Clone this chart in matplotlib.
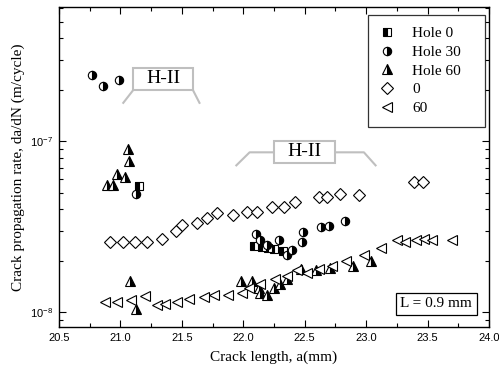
import numpy as np
import matplotlib
matplotlib.use("Agg")
import matplotlib.pyplot as plt
from matplotlib.ticker import MultipleLocator, LogLocator, NullFormatter, FormatStrFormatter
from matplotlib.patches import Rectangle

plt.rcParams['font.family'] = 'Liberation Serif'

# Hole 0 (half filled squares)
hole0_a = [21.155, 22.09, 22.15, 22.20, 22.25, 22.32]
hole0_v = [5.5e-8, 2.45e-8, 2.4e-8, 2.38e-8, 2.35e-8, 2.3e-8]

# Hole 30 (half filled circles)
hole30_a = [20.77, 20.86, 20.99, 21.13, 22.10, 22.14, 22.19, 22.29, 22.36, 22.40,
            22.48, 22.49, 22.63, 22.70, 22.83]
hole30_v = [2.43e-7, 2.1e-7, 2.3e-7, 4.9e-8, 2.88e-8, 2.64e-8, 2.47e-8, 2.64e-8, 2.16e-8, 2.33e-8,
            2.58e-8, 2.95e-8, 3.15e-8, 3.2e-8, 3.42e-8]

# Hole 60 (half filled triangles)
hole60_a = [20.89, 20.94, 20.97, 21.04, 21.07, 21.06, 21.08, 21.13,
            21.98, 22.07, 22.125, 22.14, 22.19, 22.25, 22.30, 22.36, 22.47, 22.59,
            22.71, 22.89, 23.04]
hole60_v = [5.53e-8, 5.53e-8, 6.47e-8, 6.16e-8, 7.67e-8, 9.07e-8, 1.52e-8, 1.05e-8,
            1.52e-8, 1.52e-8, 1.38e-8, 1.29e-8, 1.26e-8, 1.38e-8, 1.46e-8, 1.56e-8, 1.80e-8, 1.76e-8,
            1.83e-8, 1.88e-8, 1.99e-8]

# 0 (open diamonds)
d0_a = [20.92, 21.02, 21.12, 21.215, 21.34, 21.45, 21.50, 21.62, 21.705, 21.79,
        21.92, 22.03, 22.11, 22.235, 22.33, 22.425, 22.615, 22.68, 22.79, 22.94,
        23.39, 23.46]
d0_v = [2.58e-8, 2.58e-8, 2.58e-8, 2.58e-8, 2.7e-8, 2.99e-8, 3.23e-8, 3.33e-8, 3.58e-8, 3.83e-8,
        3.69e-8, 3.86e-8, 3.86e-8, 4.11e-8, 4.11e-8, 4.42e-8, 4.72e-8, 4.72e-8, 4.9e-8, 4.83e-8,
        5.78e-8, 5.78e-8]

# 60 (open left triangles)
d60_a = [20.875, 20.97, 21.085, 21.20, 21.30, 21.365, 21.46, 21.555, 21.68, 21.76,
         21.88, 21.99, 22.044, 22.14, 22.26, 22.357, 22.44, 22.52, 22.615, 22.724,
         22.833, 22.98, 23.118, 23.254, 23.32, 23.404, 23.47, 23.54, 23.70]
d60_v = [1.15e-8, 1.15e-8, 1.175e-8, 1.24e-8, 1.11e-8, 1.12e-8, 1.15e-8, 1.19e-8, 1.23e-8, 1.26e-8,
         1.26e-8, 1.29e-8, 1.38e-8, 1.47e-8, 1.57e-8, 1.64e-8, 1.76e-8, 1.71e-8, 1.80e-8, 1.88e-8,
         2.01e-8, 2.18e-8, 2.39e-8, 2.65e-8, 2.58e-8, 2.66e-8, 2.70e-8, 2.66e-8, 2.66e-8]

fig = plt.figure(figsize=(4.99, 3.73), dpi=100)
ax = fig.add_axes([0.118, 0.123, 0.862, 0.858])

kw = dict(linestyle='none', color='black', markeredgecolor='black', markeredgewidth=0.8)
ax.plot(hole0_a, hole0_v, marker='s', ms=5.5, fillstyle='left', markerfacecoloralt='white', label='Hole 0', **kw)
ax.plot(hole30_a, hole30_v, marker='o', ms=6, fillstyle='right', markerfacecoloralt='white', label='Hole 30', **kw)
ax.plot(hole60_a, hole60_v, marker='^', ms=7.5, fillstyle='right', markerfacecoloralt='white', label='Hole 60', **kw)
ax.plot(d0_a, d0_v, marker='D', ms=6.3, markerfacecolor='white', label='0', **kw)
ax.plot(d60_a, d60_v, marker='<', ms=7.5, markerfacecolor='white', label='60', **kw)

ax.set_yscale('log')
ax.set_xlim(20.5, 24.0)
ax.set_ylim(8.2e-9, 6.1e-7)
ax.xaxis.set_major_locator(MultipleLocator(0.5))
ax.xaxis.set_minor_locator(MultipleLocator(0.25))
ax.xaxis.set_major_formatter(FormatStrFormatter('%.1f'))
ax.yaxis.set_major_locator(LogLocator(base=10))
ax.yaxis.set_minor_locator(LogLocator(base=10, subs=np.arange(2, 10)))
ax.yaxis.set_minor_formatter(NullFormatter())
ax.tick_params(which='both', direction='in', top=True, right=True, width=0.8)
ax.tick_params(which='major', length=5, labelsize=8, pad=4)
ax.tick_params(which='minor', length=3)
for lab in ax.get_xticklabels() + ax.get_yticklabels():
    lab.set_fontfamily('Liberation Sans')
for sp in ax.spines.values():
    sp.set_linewidth(1.0)

ax.set_xlabel('Crack length, a(mm)', fontsize=11, labelpad=6)
ax.set_ylabel('Crack propagation rate, da/dN (m/cycle)', fontsize=11, labelpad=4)

leg = ax.legend(loc='upper left', bbox_to_anchor=(0.7186, 0.5, 0.272, 0.475), mode='expand',
                borderaxespad=0, fontsize=11, frameon=True, fancybox=False, edgecolor='black',
                handlelength=1.0, handletextpad=1.15, labelspacing=0.33, borderpad=0.75)
leg.get_frame().set_linewidth(0.9)

# callout "H-II" boxes
gray = '#bfbfbf'
ax.plot([21.024, 21.106], [1.68e-7, 2.0e-7], color=gray, lw=1.5)
ax.plot([21.59, 21.644], [2.0e-7, 1.68e-7], color=gray, lw=1.5)
ax.add_patch(Rectangle((21.106, 2.0e-7), 0.484, 0.68e-7, fc='white', ec=gray, lw=1.5, zorder=3))
ax.text(21.348, 2.32e-7, 'H-II', fontsize=14, ha='center', va='center', zorder=4)

ax.plot([21.944, 22.052, 22.248], [7.24e-8, 8.63e-8, 8.63e-8], color=gray, lw=1.5)
ax.plot([22.743, 22.982, 23.077], [8.63e-8, 8.63e-8, 7.24e-8], color=gray, lw=1.5)
ax.add_patch(Rectangle((22.248, 7.47e-8), 0.495, 2.63e-8, fc='white', ec=gray, lw=1.5, zorder=3))
ax.text(22.495, 8.7e-8, 'H-II', fontsize=14, ha='center', va='center', zorder=4)

ax.text(0.961, 0.052, 'L = 0.9 mm', transform=ax.transAxes, fontsize=11, ha='right', va='bottom',
        bbox=dict(boxstyle='square,pad=0.3', fc='white', ec='black', lw=0.9))

fig.savefig('out.png', dpi=100)
